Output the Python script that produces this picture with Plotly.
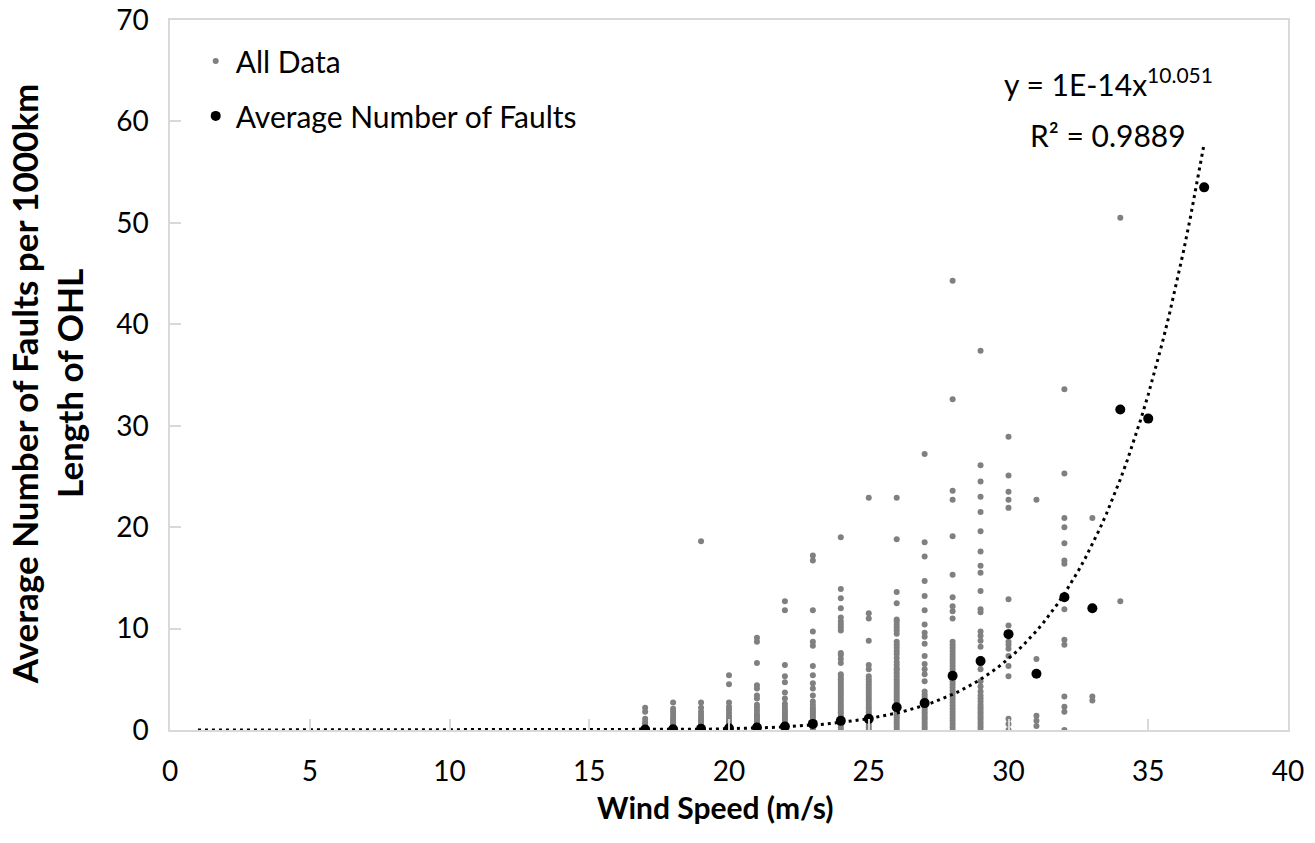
import plotly.graph_objects as go

# Observed fault rates (faults per 1000 km of OHL) grouped by wind speed (m/s)
faults_17 = [0.0, 0.2, 0.4, 0.6, 0.8, 1.1, 1.8, 2.2]
faults_18 = [0.0, 0.2, 0.4, 0.6, 0.8, 1.0, 1.2, 1.5, 1.8, 2.1, 2.7]
faults_19 = [0.0, 0.2, 0.4, 0.6, 0.8, 1.0, 1.2, 1.5, 1.8, 2.2, 2.7, 18.6]
faults_20 = [0.0, 0.2, 0.4, 0.6, 0.8, 1.0, 1.2, 1.4, 1.7, 2.0, 2.3, 2.7, 4.5, 5.4]
faults_21 = [0.0, 0.2, 0.4, 0.6, 0.8, 1.0, 1.2, 1.4, 1.6, 1.9, 2.2, 2.5, 3.1, 3.4,
             4.1, 4.4, 6.6, 8.7, 9.1]
faults_22 = [0.0, 0.2, 0.4, 0.6, 0.8, 1.0, 1.2, 1.4, 1.6, 1.8, 2.0, 2.3, 2.6, 3.1,
             3.7, 4.7, 5.3, 6.4, 11.8, 12.7]
faults_23 = [0.0, 0.2, 0.4, 0.6, 0.8, 1.0, 1.2, 1.4, 1.6, 1.8, 2.0, 2.2, 2.5, 2.8,
             3.4, 4.1, 4.6, 5.4, 6.3, 8.3, 8.7, 9.7, 11.8, 16.7, 17.2]
faults_24 = [0.0, 0.25, 0.5, 0.75, 1.0, 1.25, 1.5, 1.75, 2.0, 2.25, 2.5, 2.75, 3.0,
             3.25, 3.5, 3.75, 4.0, 4.25, 4.5, 4.75, 5.0, 5.25, 5.5, 6.6, 7.0, 7.4,
             7.6, 9.8, 10.1, 10.4, 10.7, 11.1, 12.0, 13.0, 13.9, 19.0]
faults_25 = [0.0, 0.25, 0.5, 0.75, 1.0, 1.25, 1.5, 1.75, 2.0, 2.25, 2.5, 2.75, 3.0,
             3.25, 3.5, 3.75, 4.0, 4.25, 4.5, 4.75, 5.0, 5.3, 6.0, 6.4, 8.8, 11.0,
             11.5, 22.9]
faults_26 = [0.0, 0.25, 0.5, 0.75, 1.0, 1.25, 1.5, 1.75, 2.0, 2.25, 2.5, 2.75, 3.0,
             3.25, 3.5, 3.75, 4.0, 4.25, 4.5, 4.75, 5.0, 5.3, 5.6, 5.9, 6.1, 6.4,
             6.7, 7.1, 7.5, 7.8, 8.1, 8.4, 8.7, 9.5, 9.8, 10.1, 10.4, 10.7, 10.9,
             12.5, 13.6, 18.8, 22.9]
faults_27 = [0.0, 0.25, 0.5, 0.75, 1.0, 1.25, 1.5, 1.75, 2.0, 2.25, 2.5, 2.75, 3.0,
             3.25, 3.5, 3.8, 4.8, 5.5, 6.0, 6.5, 7.3, 8.5, 9.2, 9.6, 10.4, 11.8,
             13.2, 14.7, 17.1, 18.5, 27.2]
faults_28 = [0.0, 0.3, 0.6, 0.9, 1.2, 1.5, 1.8, 2.1, 2.4, 2.7, 3.0, 3.3, 3.6, 3.9,
             4.2, 4.5, 4.8, 5.1, 5.4, 5.7, 6.0, 6.3, 6.6, 6.9, 7.2, 7.5, 7.8, 8.1,
             8.4, 8.7, 11.0, 11.7, 12.2, 13.1, 15.3, 19.1, 22.7, 23.6, 32.6, 44.3]
faults_29 = [0.0, 0.25, 0.5, 0.75, 1.0, 1.25, 1.5, 1.75, 2.0, 2.25, 2.5, 2.8, 3.1,
             3.4, 3.8, 4.3, 4.8, 6.0, 6.5, 7.0, 8.2, 8.8, 9.3, 9.7, 11.6, 11.9, 13.7,
             15.5, 16.2, 17.6, 19.6, 21.5, 23.0, 24.5, 26.1, 37.4]
faults_30 = [0.0, 0.6, 1.1, 5.3, 6.3, 7.3, 8.0, 8.4, 8.7, 10.3, 12.9, 21.9, 22.7,
             23.5, 25.1, 28.9]
faults_31 = [0.4, 0.9, 1.4, 7.0, 22.7]
faults_32 = [0.0, 1.8, 2.3, 3.3, 8.4, 8.9, 11.9, 13.1, 16.4, 16.7, 18.4, 20.0, 20.9,
             25.3, 33.6]
faults_33 = [2.9, 3.3, 20.9]
faults_34 = [12.7, 50.5]
faults_35 = [30.7]
faults_37 = [53.5]

speed_groups = [17, 18, 19, 20, 21, 22, 23, 24, 25, 26, 27, 28, 29, 30, 31, 32, 33,
                34, 35, 37]
fault_groups = [faults_17, faults_18, faults_19, faults_20, faults_21, faults_22,
                faults_23, faults_24, faults_25, faults_26, faults_27, faults_28,
                faults_29, faults_30, faults_31, faults_32, faults_33, faults_34,
                faults_35, faults_37]

# Average number of faults at each wind speed
avg_speed = [17, 18, 19, 20, 21, 22, 23, 24, 25, 26, 27, 28, 29, 30, 31, 32, 33,
             34, 35, 37]
avg_faults = [0.05, 0.08, 0.12, 0.17, 0.25, 0.35, 0.6, 0.9, 1.1, 2.25, 2.65, 5.35,
              6.8, 9.45, 5.55, 13.1, 12.0, 31.6, 30.7, 53.5]

# Power-law trendline y = a * x^b
trend_a = 1e-14
trend_b = 10.051
trend_r2 = 0.9889
trend_x = [1 + i * 0.25 for i in range(145)]  # 1 .. 37 m/s
trend_y = [trend_a * x ** trend_b for x in trend_x]

all_x, all_y = [], []
for s, vals in zip(speed_groups, fault_groups):
    all_x += [s] * len(vals)
    all_y += vals

FONT = "Lato"
FRAME = "#d9d9d9"

fig = go.Figure()
fig.add_trace(go.Scatter(
    x=all_x, y=all_y, mode="markers", name="All Data",
    marker=dict(color="#808080", size=6, line=dict(width=0)),
    legendgroup="a", legendrank=1,
))
fig.add_trace(go.Scatter(
    x=trend_x, y=trend_y, mode="lines", showlegend=False,
    line=dict(color="black", width=3, dash="3px,4px"),
))
fig.add_trace(go.Scatter(
    x=avg_speed, y=avg_faults, mode="markers", name="Average Number of Faults",
    marker=dict(color="black", size=10, line=dict(width=0)),
    legendgroup="b", legendrank=2,
))

axis_common = dict(
    showgrid=False, zeroline=False, showline=True, mirror=True,
    linecolor=FRAME, linewidth=1.5, ticks="inside", ticklen=11,
    tickcolor=FRAME, tickwidth=1.5, automargin=False,
    tickfont=dict(family=FONT, size=28, color="black"),
)

fig.update_layout(
    width=1315, height=843,
    margin=dict(l=170, r=27, t=20, b=113),
    paper_bgcolor="white", plot_bgcolor="white",
    font=dict(family=FONT, color="black"),
    xaxis=dict(range=[0, 40], dtick=5, tick0=0, ticklabelstandoff=16, **axis_common),
    yaxis=dict(range=[0, 70], dtick=10, tick0=0, ticklabelstandoff=14, **axis_common),
    legend=dict(
        x=0.023, y=0.979, xanchor="left", yanchor="top",
        font=dict(family=FONT, size=30, color="black"),
        bgcolor="rgba(0,0,0,0)", traceorder="grouped", tracegroupgap=13,
        itemsizing="trace",
    ),
    showlegend=True,
)

ann_font = dict(family=FONT, size=30, color="black")
fig.add_annotation(
    x=33.56, y=63.9, xref="x", yref="y", showarrow=False,
    text=f"y = 1E-14x<sup>{trend_b}</sup>", font=ann_font,
)
fig.add_annotation(
    x=33.56, y=58.7, xref="x", yref="y", showarrow=False,
    text=f"R² = {trend_r2}", font=ann_font,
)

fig.add_annotation(
    x=0.488, y=-0.1085, xref="paper", yref="paper", showarrow=False,
    text="Wind Speed (m/s)",
    font=dict(family=FONT, size=30, color="black", weight="bold"),
    xanchor="center", yanchor="middle",
)
fig.add_annotation(
    x=-0.11, y=0.487, xref="paper", yref="paper", showarrow=False,
    text="Average Number of Faults per 1000km<br>Length of OHL", textangle=-90,
    font=dict(family=FONT, size=35, color="black", weight="bold"),
    xanchor="center", yanchor="middle",
)

fig.write_html("out.html")
